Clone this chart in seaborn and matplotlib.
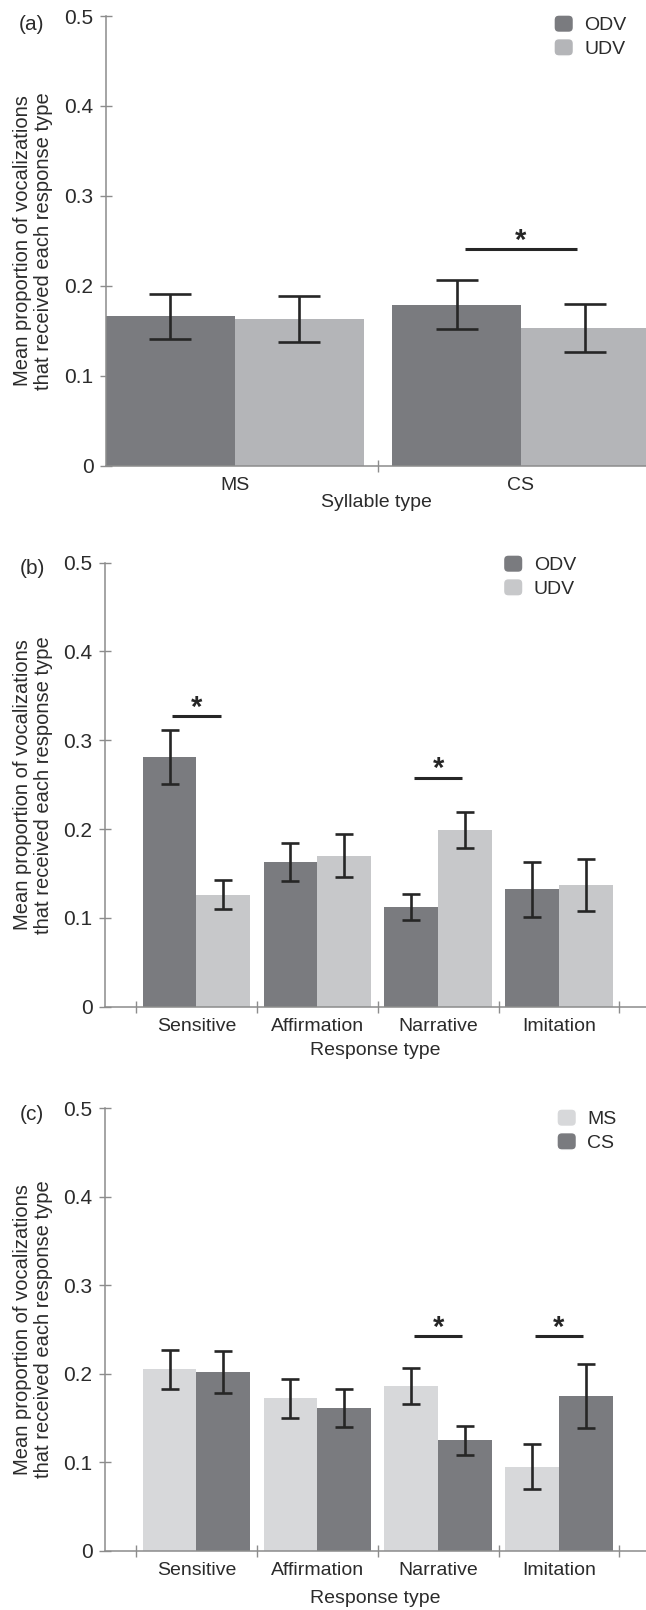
import numpy as np
import pandas as pd
import matplotlib
matplotlib.use("Agg")
import matplotlib.pyplot as plt
import seaborn as sns
from matplotlib.patches import Patch, FancyBboxPatch
from matplotlib.legend_handler import HandlerPatch

sns.set_style("ticks")
plt.rcParams['font.family'] = ['Liberation Sans', 'DejaVu Sans']

# ---------------- data ----------------
# Panel (a)
a_categories = ["MS", "CS"]
a_groups = ["ODV", "UDV"]
a_odv = [0.166, 0.179]
a_odv_err = [0.0253, 0.0275]
a_udv = [0.163, 0.153]
a_udv_err = [0.0254, 0.0267]
a_sig = [("CS", 0.2405)]

# Panel (b)
b_categories = ["Sensitive", "Affirmation", "Narrative", "Imitation"]
b_groups = ["ODV", "UDV"]
b_odv = [0.281, 0.163, 0.112, 0.132]
b_odv_err = [0.0306, 0.0218, 0.0147, 0.0314]
b_udv = [0.126, 0.170, 0.199, 0.137]
b_udv_err = [0.0162, 0.0240, 0.0205, 0.0295]
b_sig = [("Sensitive", 0.327), ("Narrative", 0.258)]

# Panel (c)
c_categories = ["Sensitive", "Affirmation", "Narrative", "Imitation"]
c_groups = ["MS", "CS"]
c_ms = [0.205, 0.172, 0.186, 0.095]
c_ms_err = [0.0220, 0.0222, 0.0200, 0.0250]
c_cs = [0.202, 0.161, 0.125, 0.175]
c_cs_err = [0.0236, 0.0215, 0.0164, 0.0360]
c_sig = [("Narrative", 0.242), ("Imitation", 0.242)]

y_ticks = [0, 0.1, 0.2, 0.3, 0.4, 0.5]
y_ticklabels = ["0", "0.1", "0.2", "0.3", "0.4", "0.5"]
ylabel = "Mean proportion of vocalizations\nthat received each response type"

DARK = "#7a7b7f"
TXT = "#2b2b2b"
SPINE = "#8c8c8c"
FS = 14
FS_TICKY = 15
FS_Y = 14.5

W, H = 646, 1610
fig = plt.figure(figsize=(W / 100, H / 100), dpi=100)


def px_axes(left, top, right, bottom):
    return fig.add_axes([left / W, 1 - bottom / H, (right - left) / W, (bottom - top) / H])


def make_round(legend, orig_handle, xdescent, ydescent, width, height, fontsize):
    return FancyBboxPatch((-xdescent, -ydescent), width, height,
                          boxstyle="round,pad=0,rounding_size=3.5")


def panel(ax, cats, groups, v1, e1, v2, e2, colors, width, xlim, capsize,
          sig, xlabel, labelpad, letter, letter_y, leg_xy):
    df = pd.DataFrame({
        "cat": cats + cats,
        "grp": [groups[0]] * len(cats) + [groups[1]] * len(cats),
        "val": list(v1) + list(v2),
    })
    sns.barplot(data=df, x="cat", y="val", hue="grp", order=cats,
                hue_order=groups, palette=colors, width=width, gap=0,
                errorbar=None, saturation=1, linewidth=0, ax=ax, legend=False)
    n = len(cats)
    patches = ax.patches[: 2 * n]
    for k, (vals, errs) in enumerate([(v1, e1), (v2, e2)]):
        xs = [p.get_x() + p.get_width() / 2 for p in patches[k * n:(k + 1) * n]]
        ax.errorbar(xs, vals, yerr=errs, fmt="none", ecolor="#262626",
                    elinewidth=1.9, capsize=capsize, capthick=1.9, zorder=5)
    ax.set_xlim(*xlim)
    ax.set_ylim(0, 0.5)
    ax.set_yticks(y_ticks)
    ax.set_yticklabels(y_ticklabels)
    ax.set_xticks(range(n))
    ax.set_xticklabels(cats)
    bounds = [i - 0.5 for i in range(n + 1) if xlim[0] < i - 0.5 < xlim[1]]
    ax.set_xticks(bounds, minor=True)
    ax.tick_params(axis="x", which="major", bottom=True, length=0, pad=8,
                   labelsize=FS, labelcolor=TXT)
    ax.tick_params(axis="x", which="minor", bottom=True, direction="inout",
                   length=9, width=1, color=SPINE)
    ax.tick_params(axis="y", which="major", left=True, direction="inout",
                   length=8, width=1, color=SPINE, pad=5, labelsize=FS_TICKY,
                   labelcolor=TXT)
    ax.tick_params(axis="y", which="minor", left=False)
    for s in ["top", "right"]:
        ax.spines[s].set_visible(False)
    for s in ["left", "bottom"]:
        ax.spines[s].set_color(SPINE)
        ax.spines[s].set_linewidth(1.1)
    ax.set_xlabel(xlabel, fontsize=FS, color=TXT, labelpad=labelpad)
    ax.set_ylabel("")
    ax.set_facecolor("white")

    for cat, yv in sig:
        i = cats.index(cat)
        hw = 0.2 if n > 2 else 0.195
        ax.plot([i - hw, i + hw], [yv, yv], color="#262626", lw=2.2,
                solid_capstyle="butt")
        ax.text(i, yv - 0.006, "*", ha="center", va="bottom", fontsize=21,
                color="#262626", fontweight="bold")

    # y label and panel letter
    bb = ax.get_position()
    fig.text(33 / W, bb.y0 + bb.height / 2, ylabel, rotation=90, ha="center",
             va="center", fontsize=FS_Y, color=TXT, linespacing=1.1,
             multialignment="center")
    fig.text(32 / W, 1 - letter_y / H, letter, ha="center", va="center",
             fontsize=FS_TICKY, color=TXT)

    handles = [Patch(facecolor=colors[0], label=groups[0]),
               Patch(facecolor=colors[1], label=groups[1])]
    ax.legend(handles=handles, loc="upper left",
              bbox_to_anchor=(leg_xy[0] / W, 1 - leg_xy[1] / H),
              bbox_transform=fig.transFigure, frameon=False, borderpad=0,
              borderaxespad=0, handlelength=1.0, handleheight=1.0,
              handletextpad=0.55, labelspacing=0.22, fontsize=FS,
              labelcolor=TXT, handler_map={Patch: HandlerPatch(patch_func=make_round)})


ax_a = px_axes(106, 16, 646, 465.7)
panel(ax_a, a_categories, a_groups, a_odv, a_odv_err, a_udv, a_udv_err,
      [DARK, "#b4b5b8"], 0.9, (-0.4495, 1.4366), 15, a_sig,
      "Syllable type", 0, "(a)", 24, (554, 15))

ax_b = px_axes(105, 562.7, 646, 1006.7)
panel(ax_b, b_categories, b_groups, b_odv, b_odv_err, b_udv, b_udv_err,
      [DARK, "#c7c8ca"], 0.89, (-0.757, 3.72), 6.2, b_sig,
      "Response type", 5, "(b)", 569, (503.5, 555))

ax_c = px_axes(105, 1108, 646, 1550.7)
panel(ax_c, c_categories, c_groups, c_ms, c_ms_err, c_cs, c_cs_err,
      ["#d7d8da", DARK], 0.89, (-0.757, 3.72), 6.2, c_sig,
      "Response type", 8, "(c)", 1114, (557, 1109))

fig.savefig("out.png", dpi=100, facecolor="white")
